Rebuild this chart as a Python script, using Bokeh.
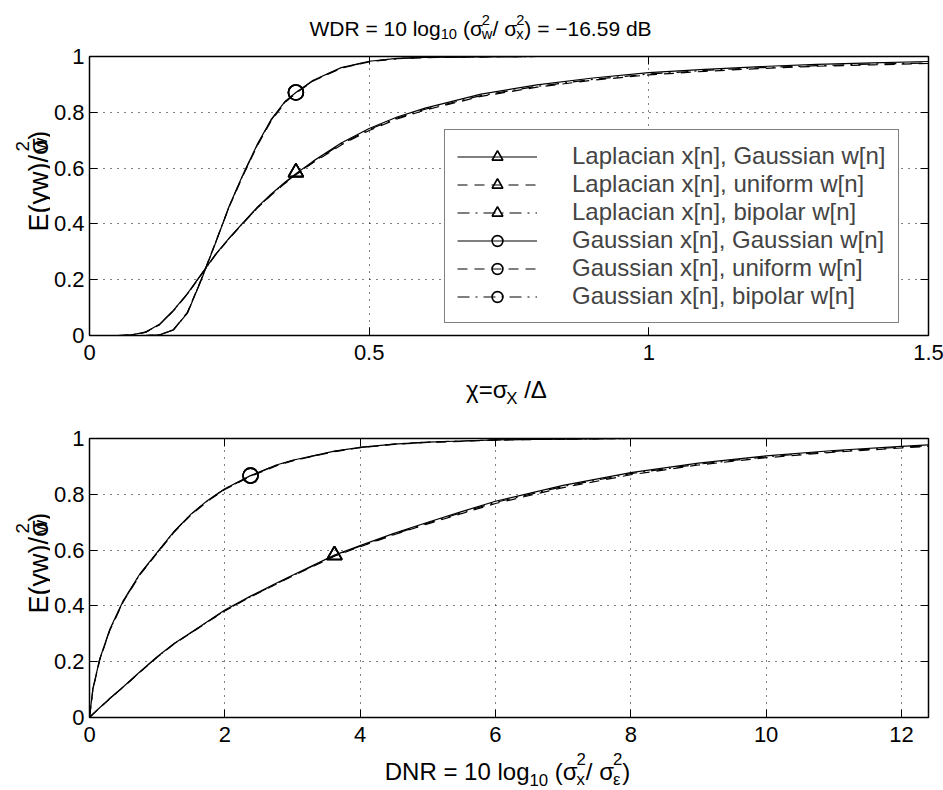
import math
from bokeh.plotting import figure
from bokeh.models import (LinearAxis, Range1d, FixedTicker, Legend, LegendItem,
                          NumeralTickFormatter, ColumnDataSource)
from bokeh.core.properties import value
from bokeh.layouts import column, row
from bokeh.embed import file_html
from bokeh.resources import INLINE

FONT = "Liberation Sans"

# ---------------- data ----------------
chi = [0.0, 0.05, 0.075, 0.1, 0.125, 0.15, 0.175, 0.2, 0.225, 0.25, 0.275, 0.3,
       0.325, 0.35, 0.369, 0.4, 0.45, 0.5, 0.55, 0.6, 0.7, 0.8, 0.9, 1.0, 1.1,
       1.2, 1.3, 1.4, 1.5]
lap_gau_top = [0, 0, 0.002, 0.012, 0.04, 0.09, 0.15, 0.22, 0.29, 0.35, 0.405, 0.46,
               0.507, 0.55, 0.58, 0.625, 0.69, 0.742, 0.783, 0.815, 0.865, 0.898,
               0.923, 0.942, 0.954, 0.964, 0.972, 0.977, 0.982]
lap_uni_top = [0, 0, 0.002, 0.011, 0.038, 0.088, 0.148, 0.218, 0.288, 0.348, 0.403,
               0.457, 0.503, 0.546, 0.576, 0.62, 0.683, 0.735, 0.776, 0.808, 0.857,
               0.89, 0.915, 0.934, 0.947, 0.957, 0.965, 0.97, 0.975]
lap_bip_top = [0, 0, 0.002, 0.012, 0.039, 0.089, 0.149, 0.219, 0.289, 0.349, 0.404,
               0.458, 0.505, 0.548, 0.578, 0.622, 0.686, 0.738, 0.779, 0.811, 0.86,
               0.893, 0.918, 0.937, 0.95, 0.96, 0.967, 0.973, 0.977]
gau_gau_top = [0, 0, 0, 0, 0.002, 0.02, 0.08, 0.2, 0.33, 0.465, 0.58, 0.685, 0.775,
               0.84, 0.871, 0.915, 0.96, 0.983, 0.993, 0.997, 0.999, 1, 1, 1, 1, 1,
               1, 1, 1]
gau_uni_top = [0, 0, 0, 0, 0.002, 0.021, 0.083, 0.203, 0.332, 0.462, 0.575, 0.68,
               0.77, 0.836, 0.868, 0.912, 0.958, 0.981, 0.992, 0.996, 0.999, 1, 1,
               1, 1, 1, 1, 1, 1]
gau_bip_top = [0, 0, 0, 0, 0.002, 0.02, 0.081, 0.201, 0.331, 0.464, 0.578, 0.683,
               0.773, 0.838, 0.87, 0.914, 0.959, 0.982, 0.993, 0.997, 0.999, 1, 1,
               1, 1, 1, 1, 1, 1]

dnr = [0.0, 0.05, 0.15, 0.3, 0.5, 0.75, 1.0, 1.25, 1.5, 1.75, 2.0, 2.38, 2.75, 3.0,
       3.62, 4.0, 4.5, 5.0, 5.5, 6.0, 7.0, 8.0, 9.0, 10.0, 11.0, 12.0, 12.4]
lap_gau_bot = [0, 0.012, 0.035, 0.068, 0.11, 0.165, 0.218, 0.265, 0.305, 0.345,
               0.385, 0.435, 0.48, 0.51, 0.582, 0.616, 0.66, 0.7, 0.738, 0.775,
               0.832, 0.878, 0.912, 0.938, 0.957, 0.972, 0.977]
lap_uni_bot = [0, 0.012, 0.034, 0.067, 0.109, 0.163, 0.216, 0.263, 0.303, 0.343,
               0.382, 0.432, 0.477, 0.507, 0.578, 0.612, 0.655, 0.694, 0.731, 0.767,
               0.824, 0.87, 0.905, 0.931, 0.951, 0.966, 0.972]
lap_bip_bot = [0, 0.012, 0.035, 0.068, 0.11, 0.164, 0.217, 0.264, 0.304, 0.344,
               0.383, 0.433, 0.478, 0.508, 0.58, 0.614, 0.657, 0.697, 0.734, 0.771,
               0.828, 0.874, 0.908, 0.934, 0.954, 0.969, 0.974]
gau_gau_bot = [0, 0.103, 0.209, 0.316, 0.419, 0.517, 0.592, 0.667, 0.729, 0.779,
               0.82, 0.867, 0.904, 0.922, 0.955, 0.968, 0.98, 0.987, 0.991, 0.995,
               0.998, 1, 1, 1, 1, 1, 1]
gau_uni_bot = [0, 0.1, 0.205, 0.312, 0.415, 0.513, 0.589, 0.664, 0.726, 0.776,
               0.817, 0.864, 0.901, 0.92, 0.953, 0.967, 0.979, 0.986, 0.99, 0.994,
               0.998, 1, 1, 1, 1, 1, 1]
gau_bip_bot = [0, 0.102, 0.207, 0.314, 0.417, 0.515, 0.591, 0.666, 0.728, 0.778,
               0.819, 0.866, 0.903, 0.921, 0.954, 0.968, 0.98, 0.987, 0.991, 0.995,
               0.998, 1, 1, 1, 1, 1, 1]

# single marked points on the curves
lap_mark_top_x, lap_mark_top_y = [0.369], [0.585]
gau_mark_top_x, gau_mark_top_y = [0.369], [0.871]
lap_mark_bot_x, lap_mark_bot_y = [3.62], [0.582]
gau_mark_bot_x, gau_mark_bot_y = [2.38], [0.867]

series_names = ["Laplacian x[n], Gaussian w[n]", "Laplacian x[n], uniform w[n]",
                "Laplacian x[n], bipolar w[n]", "Gaussian x[n], Gaussian w[n]",
                "Gaussian x[n], uniform w[n]", "Gaussian x[n], bipolar w[n]"]

top_x_ticks = [0, 0.5, 1, 1.5]
bot_x_ticks = [0, 2, 4, 6, 8, 10, 12]
y_ticks = [0, 0.2, 0.4, 0.6, 0.8, 1]

# ---------------- styling helpers ----------------
DASHES = ["solid", "10 7", "12 6 2 6"]
TICK_FS = "22px"

CW = {' ': 278, '(': 333, ')': 333, '/': 278, '=': 584, '\u2212': 584, '-': 333,
      '.': 278, 'W': 944, 'D': 722, 'R': 722, 'N': 722, 'B': 667, 'E': 667,
      'X': 667, 'l': 222, 'o': 556, 'g': 556, 'd': 556, 'y': 500, 'w': 722,
      'x': 500, '\u03c3': 571, '\u03c7': 520, '\u0394': 668, '\u03b5': 440}


def tw(s, size):
    return sum(CW.get(c, 556) for c in s) * size / 1000.0


def text_fig(w, h):
    f = figure(width=w, height=h, x_range=Range1d(0, w), y_range=Range1d(0, h),
               output_backend="svg", toolbar_location=None, min_border=0,
               x_axis_location=None, y_axis_location=None)
    f.outline_line_color = None
    f.xgrid.visible = False
    f.ygrid.visible = False
    f.background_fill_color = "white"
    f.border_fill_color = "white"
    return f


def rich(f, fig_top, fig_h, X, Y, pieces, size, vertical=False,
         sup=0.45, sub=0.4, sssub=0.35):
    """Text with sub/superscripts; X, Y = page pixel of (centre, baseline)."""
    def pw(pc):
        if pc[0] == "n":
            return tw(pc[1], size)
        if pc[0] == "sub":
            return tw(pc[1], size * 0.7)
        return max(tw(pc[1], size * 0.7), tw(pc[2], size * 0.7))
    total = sum(pw(pc) for pc in pieces)
    if vertical:
        d, n, ang = (0, -1), (-1, 0), math.pi / 2
    else:
        d, n, ang = (1, 0), (0, -1), 0.0
    xs, ys, ts, ss = [], [], [], []
    adv = -total / 2
    for pc in pieces:
        if pc[0] == "n":
            items = [(pc[1], size, 0.0)]
        elif pc[0] == "sub":
            items = [(pc[1], size * 0.7, -sub * size)]
        else:
            items = [(pc[1], size * 0.7, sup * size), (pc[2], size * 0.7, -sssub * size)]
        for txt, sz, shift in items:
            lead = len(txt) - len(txt.lstrip())
            a = adv + tw(" " * lead, sz)
            px = X + a * d[0] + shift * n[0]
            py = Y + a * d[1] + shift * n[1]
            xs.append(px)
            ys.append(fig_h - (py - fig_top))
            ts.append(txt.strip())
            ss.append(f"{sz:.1f}px")
        adv += pw(pc)
    src = ColumnDataSource(dict(x=xs, y=ys, text=ts, size=ss))
    f.text(x="x", y="y", text="text", source=src, angle=ang, text_font=value(FONT),
           text_font_size="size", text_align="left", text_baseline="alphabetic",
           text_color="black")


def style_axis(ax, ticks, labels=True, standoff=8):
    ax.ticker = FixedTicker(ticks=ticks)
    ax.major_tick_in = 8
    ax.major_tick_out = 0
    ax.minor_tick_in = 0
    ax.minor_tick_out = 0
    ax.major_tick_line_color = "black"
    ax.major_tick_line_width = 1
    ax.axis_line_color = None
    ax.formatter = NumeralTickFormatter(format="0.[0]")
    if labels:
        ax.major_label_text_font = FONT
        ax.major_label_text_font_size = TICK_FS
        ax.major_label_text_color = "black"
        ax.major_label_standoff = standoff
    else:
        ax.major_label_text_font_size = "0px"
        ax.major_label_text_color = None
        ax.major_label_standoff = 0


def make_fig(xr, xticks):
    p = figure(frame_width=839, frame_height=279, x_range=Range1d(*xr),
               y_range=Range1d(0, 1), output_backend="svg", toolbar_location=None,
               min_border_left=37, min_border_right=17, min_border_top=8,
               min_border_bottom=34)
    p.outline_line_color = "black"
    p.outline_line_width = 1.5
    p.background_fill_color = "white"
    p.border_fill_color = "white"
    style_axis(p.xaxis[0], xticks, True, 9)
    style_axis(p.yaxis[0], y_ticks, True, 5)
    top = LinearAxis()
    style_axis(top, xticks, False)
    p.add_layout(top, "above")
    right = LinearAxis()
    style_axis(right, y_ticks, False)
    p.add_layout(right, "right")
    for g, t in ((p.xgrid, xticks), (p.ygrid, y_ticks)):
        g.ticker = FixedTicker(ticks=t)
        g.grid_line_color = "black"
        g.grid_line_dash = "1 6"
        g.grid_line_width = 1
    return p


def draw_curves(p, x, ys, marks):
    lines, pts = [], []
    for i, y in enumerate(ys):
        lines.append(p.line(x, y, line_color="black", line_width=1.2,
                            line_dash=DASHES[i % 3]))
    for i in range(6):
        mx, my = marks[0] if i < 3 else marks[1]
        pts.append(p.scatter(mx, my, marker="triangle" if i < 3 else "circle",
                             size=15, fill_color=None, line_color="black",
                             line_width=1.6))
    return lines, pts


# ---------------- top plot ----------------
p1 = make_fig((0, 1.5), top_x_ticks)
l1, m1 = draw_curves(p1, chi, [lap_gau_top, lap_uni_top, lap_bip_top,
                               gau_gau_top, gau_uni_top, gau_bip_top],
                     [(lap_mark_top_x, lap_mark_top_y), (gau_mark_top_x, gau_mark_top_y)])
legend = Legend(items=[LegendItem(label=series_names[i], renderers=[l1[i], m1[i]])
                       for i in range(6)],
                location=(355, 12), label_text_font=FONT, label_text_font_size="24px",
                glyph_width=80, glyph_height=27, label_height=27, spacing=0,
                padding=12, label_standoff=35, border_line_color="black",
                border_line_width=1, background_fill_color="white",
                background_fill_alpha=1, margin=0)
p1.add_layout(legend)

# ---------------- bottom plot ----------------
p2 = make_fig((0, 12.4), bot_x_ticks)
draw_curves(p2, dnr, [lap_gau_bot, lap_uni_bot, lap_bip_bot,
                      gau_gau_bot, gau_uni_bot, gau_bip_bot],
            [(lap_mark_bot_x, lap_mark_bot_y), (gau_mark_bot_x, gau_mark_bot_y)])

# ---------------- text panels (page pixel layout) ----------------
TITLE_H, P_H, XL1_H, XL2_H, YL_W = 48, 321, 61, 39, 50
PAGE_W = 943

t_fig = text_fig(PAGE_W, TITLE_H)
rich(t_fig, 0, TITLE_H, 480, 28,
     [("n", "WDR = 10 log"), ("sub", "10"), ("n", " (\u03c3"), ("ss", "2", "w"),
      ("n", "/ \u03c3"), ("ss", "2", "x"), ("n", ") = \u221216.59 dB")], 21,
     sup=0.42, sub=0.25, sssub=0.25)

y1_fig = text_fig(YL_W, P_H)
rich(y1_fig, TITLE_H, P_H, 38, 192,
     [("n", "E(yw)/\u03c3"), ("ss", "2", "w"), ("n", ")")], 27, vertical=True,
     sup=0.6, sssub=0.08)

x1_top = TITLE_H + P_H
x1_fig = text_fig(PAGE_W, XL1_H)
rich(x1_fig, x1_top, XL1_H, 506, 389,
     [("n", "\u03c7=\u03c3"), ("sub", "X"), ("n", " /\u0394")], 24, sub=0.37)

p2_top = x1_top + XL1_H
y2_fig = text_fig(YL_W, P_H)
rich(y2_fig, p2_top, P_H, 38, 574,
     [("n", "E(yw)/\u03c3"), ("ss", "2", "w"), ("n", ")")], 27, vertical=True,
     sup=0.6, sssub=0.08)

x2_top = p2_top + P_H
x2_fig = text_fig(PAGE_W, XL2_H)
rich(x2_fig, x2_top, XL2_H, 507, 771,
     [("n", "DNR = 10 log"), ("sub", "10"), ("n", " (\u03c3"), ("ss", "2", "x"),
      ("n", "/ \u03c3"), ("ss", "2", "\u03b5"), ("n", ")")], 24,
     sup=0.52, sub=0.34, sssub=0.34)

layout = column(t_fig, row(y1_fig, p1, spacing=0), x1_fig,
                row(y2_fig, p2, spacing=0), x2_fig, spacing=0)
open("out.html", "w").write(file_html(layout, INLINE))
